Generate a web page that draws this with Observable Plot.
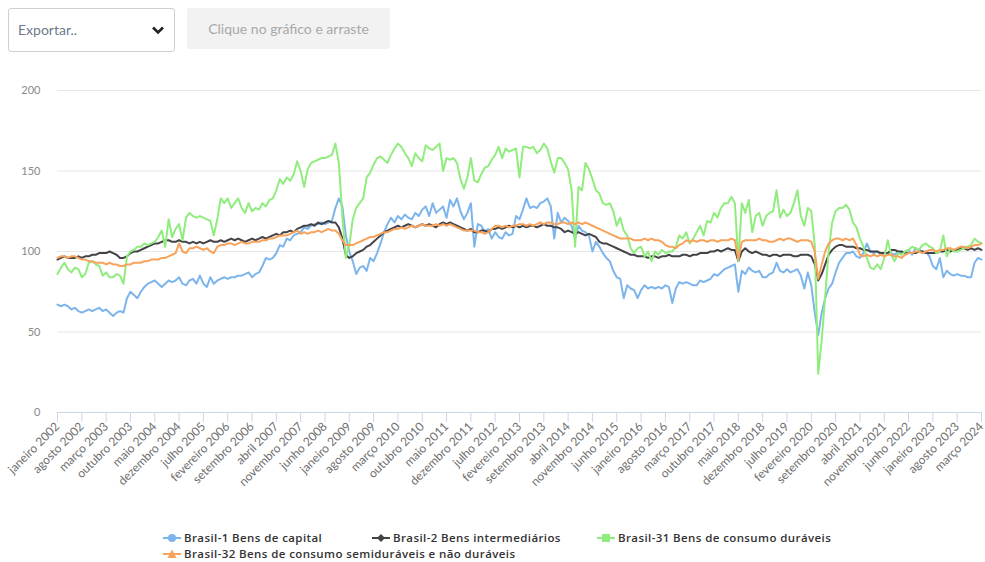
<!DOCTYPE html>
<html>
<head>
<meta charset="utf-8">
<script src="https://cdn.jsdelivr.net/npm/d3@7"></script>
<script src="https://cdn.jsdelivr.net/npm/@observablehq/plot@0.6"></script>
<style>
  html, body { margin: 0; padding: 0; background: #fff; }
  body { width: 985px; height: 562px; position: relative; overflow: hidden; font-family: Lato, "Open Sans", sans-serif; }
  #export { position: absolute; left: 8px; top: 8px; width: 167px; height: 44px; box-sizing: border-box;
    border: 1px solid #cfcfcf; border-radius: 3px; background: #fff; }
  #export span { position: absolute; left: 9px; top: 12px; font-size: 14px; color: #6d7a8a; }
  #export svg { position: absolute; right: 10px; top: 17px; }
  #drag { position: absolute; left: 187px; top: 8px; width: 203px; height: 41px; background: #f2f2f2; border-radius: 2px;
    font-size: 14px; color: #a9a9a9; line-height: 41px; text-align: center; }
  #chart { position: absolute; left: 0; top: 60px; }
  #legend .item { position: absolute; display: flex; align-items: center; font-family: "Open Sans", Lato, sans-serif;
    font-size: 11.5px; font-weight: 600; letter-spacing: 0.4px; color: #333; white-space: nowrap; }
  #legend .item svg { margin-right: 3px; }
</style>
</head>
<body>
<div id="export"><span>Exportar..</span>
  <svg width="12" height="9" viewBox="0 0 12 9"><path d="M1 1.5 L6 6.5 L11 1.5" fill="none" stroke="#222" stroke-width="2.6"/></svg>
</div>
<div id="drag">Clique no gráfico e arraste</div>
<div id="chart"></div>
<div id="legend"></div>
<script>
const monthNames = ["janeiro","fevereiro","março","abril","maio","junho","julho","agosto","setembro","outubro","novembro","dezembro"];
const firstYear = 2002, lastYear = 2024, lastYearMonths = 3;
const yTicks = [0, 50, 100, 150, 200];
const seriesNames = [
  "Brasil-1 Bens de capital",
  "Brasil-2 Bens intermediários",
  "Brasil-31 Bens de consumo duráveis",
  "Brasil-32 Bens de consumo semiduráveis e não duráveis"
];
const seriesColors = ["#7cb5ec", "#434348", "#90ed7d", "#f7a35c"];
const seriesMarkers = ["circle", "diamond", "square", "triangle"];

const capital = [
  67,66,67,66,64,65,63,62,63,64,63,64,
  65,63,64,62,60,62,63,62,71,75,73,71,
  75,78,80,81,82,80,78,80,82,81,82,84,
  80,79,82,83,80,85,80,78,84,80,82,83,
  84,83,84,84,85,85,86,87,84,86,87,91,
  96,95,96,99,104,103,108,107,110,111,112,115,
  114,116,117,117,118,117,118,119,127,133,128,110,
  100,94,86,90,91,88,96,94,99,105,112,117,
  121,118,122,120,123,121,120,124,122,126,128,122,
  130,124,126,128,121,132,128,133,125,120,124,130,
  103,117,116,112,114,108,112,109,108,112,110,111,
  122,120,126,133,127,128,127,130,131,133,128,108,
  124,118,121,119,116,108,116,113,112,110,100,106,
  103,99,96,94,88,84,83,71,79,77,76,71,
  76,79,77,78,77,78,77,79,78,68,77,81,
  80,81,80,79,79,82,81,82,83,86,85,87,
  89,90,91,92,75,88,86,90,88,87,88,84,
  84,86,87,93,88,87,89,87,88,89,85,77,
  87,79,62,48,62,71,77,80,87,93,96,99,
  99,100,97,96,99,105,100,99,100,98,99,99,
  99,98,100,99,100,101,98,102,101,100,100,97,
  91,89,96,84,88,86,85,86,85,85,84,84,
  93,96,95
];
const intermediarios = [
  95,96,97,96,96,96,97,96,97,97,98,98,
  99,99,99,100,99,98,96,96,97,99,100,100,
  101,102,103,104,105,105,106,107,107,106,106,107,
  106,106,105,106,105,106,105,106,107,106,106,107,
  106,107,108,107,108,107,106,107,108,107,108,109,
  108,109,110,111,110,112,112,113,112,114,115,116,
  116,117,116,118,117,118,119,118,118,115,108,98,
  96,97,99,100,101,103,104,106,108,110,112,113,
  114,115,116,115,116,117,116,115,116,117,116,117,
  116,115,117,118,117,118,117,116,115,114,113,114,
  112,112,113,113,112,114,114,115,114,115,116,115,
  116,115,116,115,116,116,115,116,117,116,116,115,
  115,114,112,113,112,111,112,111,110,111,110,109,
  106,105,105,104,103,102,101,100,99,98,98,97,
  97,97,96,97,97,96,97,97,98,97,97,97,
  98,98,97,98,98,99,99,99,100,100,101,100,
  101,102,101,101,94,100,102,100,99,100,99,98,
  98,97,98,98,97,98,98,98,97,97,98,98,
  98,97,92,82,86,92,98,101,103,104,104,103,
  103,103,102,102,101,101,100,100,100,99,99,99,
  101,101,100,100,99,99,99,99,100,100,99,99,
  99,99,100,100,101,100,101,101,102,102,101,102,
  101,102,101
];
const duraveis = [
  86,90,93,89,87,90,89,84,86,93,94,92,
  91,85,87,84,84,86,85,80,97,100,101,103,
  103,105,104,105,106,109,113,103,120,109,114,117,
  107,121,124,122,121,122,121,120,119,110,120,133,
  130,133,127,130,133,127,124,130,125,127,126,130,
  128,132,133,138,145,142,146,144,148,156,150,140,
  151,155,156,157,158,158,159,160,167,155,122,96,
  104,120,127,130,133,146,149,154,158,159,157,155,
  160,164,167,165,161,158,153,161,158,156,166,164,
  163,165,167,150,158,157,158,155,145,139,146,158,
  144,143,148,152,153,157,160,165,158,164,162,163,
  164,146,165,165,164,165,161,163,167,164,156,149,
  158,158,155,151,138,103,140,138,155,151,145,138,
  136,130,129,130,125,116,121,113,110,102,99,102,
  103,97,100,94,100,98,101,99,100,100,103,110,
  108,112,105,108,112,116,110,119,118,124,121,127,
  130,130,134,130,94,130,124,132,112,122,124,116,
  122,124,125,138,121,126,122,124,130,138,122,116,
  127,125,104,24,45,72,100,118,125,127,127,129,
  126,118,115,108,103,96,90,89,92,89,96,107,
  98,94,99,98,100,101,103,102,101,104,105,103,
  102,99,100,110,97,102,100,100,101,102,103,104,
  108,106,105
];
const semiduraveis = [
  96,97,97,96,97,97,96,95,95,94,94,93,
  93,93,92,93,92,92,91,91,92,92,93,93,
  93,94,94,95,95,95,96,96,97,98,99,105,
  100,99,102,102,103,102,101,102,100,99,103,104,
  104,105,105,104,105,106,105,105,106,106,106,107,
  107,108,108,109,110,110,110,111,112,113,111,112,
  111,112,112,113,112,113,114,113,113,111,107,104,
  104,104,105,106,107,108,109,109,110,111,112,112,
  113,114,114,115,114,115,116,115,116,117,116,116,
  116,117,116,117,116,117,116,115,114,113,113,113,
  113,112,112,111,112,114,116,116,115,116,115,116,
  116,117,117,116,117,116,117,118,117,118,118,117,
  117,118,118,117,118,117,118,117,118,117,116,115,
  114,113,112,111,110,109,108,108,108,108,107,107,
  107,108,107,108,107,107,106,104,103,103,102,104,
  105,107,106,107,106,107,107,106,107,107,106,107,
  107,107,108,107,95,106,107,107,107,107,108,107,
  107,106,106,107,108,107,108,108,107,106,107,107,
  107,106,100,83,92,100,105,107,108,108,107,108,
  107,108,104,98,97,98,97,98,97,98,97,98,
  98,97,97,96,98,99,99,100,100,99,100,101,
  101,100,101,101,102,102,101,102,103,103,102,103,
  104,104,105
];

// categories (month labels)
const categories = [];
for (let y = firstYear; y <= lastYear; y++) {
  const n = y === lastYear ? lastYearMonths : 12;
  for (let m = 0; m < n; m++) categories.push(monthNames[m] + " " + y);
}
const xTicks = categories.filter((d, i) => i % 7 === 0);

const allSeries = [capital, intermediarios, duraveis, semiduraveis];
const lineMarks = allSeries.map((vals, s) =>
  Plot.line(vals.map((v, i) => ({cat: categories[i], value: v})), {
    x: "cat", y: "value", stroke: seriesColors[s], strokeWidth: 2, curve: "linear"
  })
);

const chart = Plot.plot({
  width: 985,
  height: 465,
  marginTop: 30,
  marginBottom: 113,
  marginLeft: 57,
  marginRight: 4,
  style: { fontFamily: "Lato, 'Open Sans', sans-serif", fontSize: "11px", background: "transparent" },
  x: { type: "point", domain: categories, padding: 0, label: null },
  y: { domain: [0, 200], label: null },
  marks: [
    Plot.gridY(yTicks, { stroke: "#e6e6e6", strokeOpacity: 1 }),
    Plot.axisY(yTicks, { tickSize: 0, tickPadding: 17, fill: "#8a8a8a", label: null }),
    Plot.ruleY([0], { stroke: "#ccd6eb" }),
    Plot.axisX(xTicks, { tickRotate: -45, tickSize: 10, tickPadding: 2, stroke: "#ccd6eb", strokeOpacity: 1, fill: "#6f6f6f", fontSize: 12, label: null }),
    ...lineMarks
  ]
});
document.getElementById("chart").appendChild(chart);

// legend
const legendPos = [[163, 530], [372, 530], [597, 530], [163, 546]];
const legend = document.getElementById("legend");
seriesNames.forEach((name, s) => {
  const div = document.createElement("div");
  div.className = "item";
  div.style.left = legendPos[s][0] + "px";
  div.style.top = legendPos[s][1] + "px";
  const c = seriesColors[s];
  let marker = "";
  if (seriesMarkers[s] === "circle") marker = `<circle cx="9" cy="7" r="4" fill="${c}"/>`;
  if (seriesMarkers[s] === "diamond") marker = `<path d="M9 3 L13 7 L9 11 L5 7 Z" fill="${c}"/>`;
  if (seriesMarkers[s] === "square") marker = `<rect x="5" y="3" width="8" height="8" fill="${c}"/>`;
  if (seriesMarkers[s] === "triangle") marker = `<path d="M9 2.5 L13.5 11 L4.5 11 Z" fill="${c}"/>`;
  div.innerHTML = `<svg width="18" height="14"><line x1="0" y1="7" x2="18" y2="7" stroke="${c}" stroke-width="2"/>${marker}</svg><span>${name}</span>`;
  legend.appendChild(div);
});
</script>
</body>
</html>
